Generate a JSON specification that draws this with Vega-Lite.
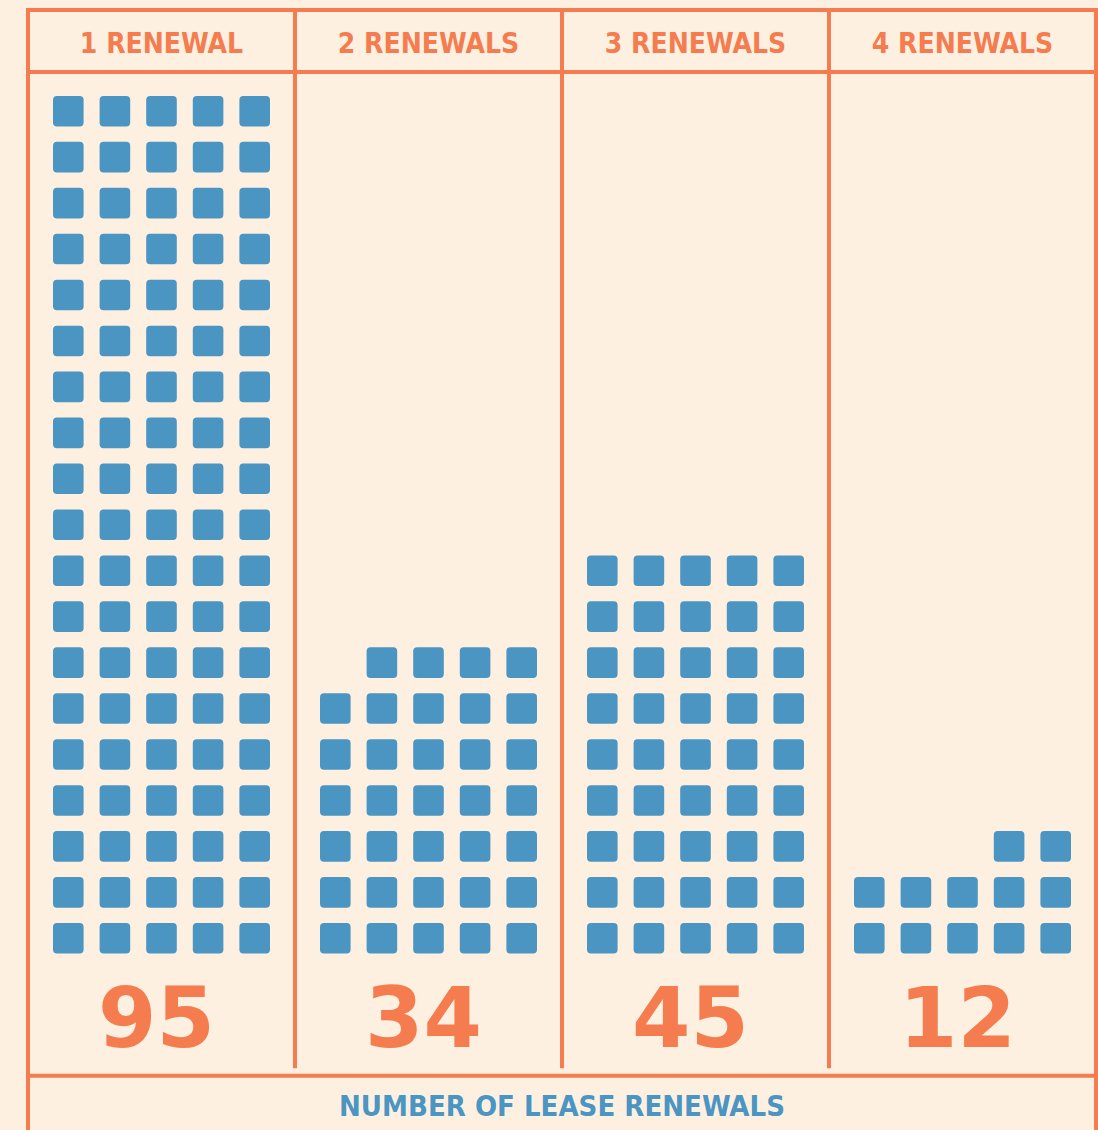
{
  "$schema": "https://vega.github.io/schema/vega-lite/v6.json",
  "width": 1068,
  "height": 1120,
  "autosize": {"type": "none"},
  "padding": {"left": 28, "top": 10, "right": 2, "bottom": 0},
  "background": "#FEF0E1",
  "config": {"view": {"stroke": null}, "axis": {"disable": true}},
  "datasets": {
    "totals": [
      {"g": 1, "label": "1 RENEWAL", "count": 95},
      {"g": 2, "label": "2 RENEWALS", "count": 34},
      {"g": 3, "label": "3 RENEWALS", "count": 45},
      {"g": 4, "label": "4 RENEWALS", "count": 12}
    ],
    "squares": [
      {"g":1,"r":0,"c":0},{"g":1,"r":0,"c":1},{"g":1,"r":0,"c":2},{"g":1,"r":0,"c":3},{"g":1,"r":0,"c":4},
      {"g":1,"r":1,"c":0},{"g":1,"r":1,"c":1},{"g":1,"r":1,"c":2},{"g":1,"r":1,"c":3},{"g":1,"r":1,"c":4},
      {"g":1,"r":2,"c":0},{"g":1,"r":2,"c":1},{"g":1,"r":2,"c":2},{"g":1,"r":2,"c":3},{"g":1,"r":2,"c":4},
      {"g":1,"r":3,"c":0},{"g":1,"r":3,"c":1},{"g":1,"r":3,"c":2},{"g":1,"r":3,"c":3},{"g":1,"r":3,"c":4},
      {"g":1,"r":4,"c":0},{"g":1,"r":4,"c":1},{"g":1,"r":4,"c":2},{"g":1,"r":4,"c":3},{"g":1,"r":4,"c":4},
      {"g":1,"r":5,"c":0},{"g":1,"r":5,"c":1},{"g":1,"r":5,"c":2},{"g":1,"r":5,"c":3},{"g":1,"r":5,"c":4},
      {"g":1,"r":6,"c":0},{"g":1,"r":6,"c":1},{"g":1,"r":6,"c":2},{"g":1,"r":6,"c":3},{"g":1,"r":6,"c":4},
      {"g":1,"r":7,"c":0},{"g":1,"r":7,"c":1},{"g":1,"r":7,"c":2},{"g":1,"r":7,"c":3},{"g":1,"r":7,"c":4},
      {"g":1,"r":8,"c":0},{"g":1,"r":8,"c":1},{"g":1,"r":8,"c":2},{"g":1,"r":8,"c":3},{"g":1,"r":8,"c":4},
      {"g":1,"r":9,"c":0},{"g":1,"r":9,"c":1},{"g":1,"r":9,"c":2},{"g":1,"r":9,"c":3},{"g":1,"r":9,"c":4},
      {"g":1,"r":10,"c":0},{"g":1,"r":10,"c":1},{"g":1,"r":10,"c":2},{"g":1,"r":10,"c":3},{"g":1,"r":10,"c":4},
      {"g":1,"r":11,"c":0},{"g":1,"r":11,"c":1},{"g":1,"r":11,"c":2},{"g":1,"r":11,"c":3},{"g":1,"r":11,"c":4},
      {"g":1,"r":12,"c":0},{"g":1,"r":12,"c":1},{"g":1,"r":12,"c":2},{"g":1,"r":12,"c":3},{"g":1,"r":12,"c":4},
      {"g":1,"r":13,"c":0},{"g":1,"r":13,"c":1},{"g":1,"r":13,"c":2},{"g":1,"r":13,"c":3},{"g":1,"r":13,"c":4},
      {"g":1,"r":14,"c":0},{"g":1,"r":14,"c":1},{"g":1,"r":14,"c":2},{"g":1,"r":14,"c":3},{"g":1,"r":14,"c":4},
      {"g":1,"r":15,"c":0},{"g":1,"r":15,"c":1},{"g":1,"r":15,"c":2},{"g":1,"r":15,"c":3},{"g":1,"r":15,"c":4},
      {"g":1,"r":16,"c":0},{"g":1,"r":16,"c":1},{"g":1,"r":16,"c":2},{"g":1,"r":16,"c":3},{"g":1,"r":16,"c":4},
      {"g":1,"r":17,"c":0},{"g":1,"r":17,"c":1},{"g":1,"r":17,"c":2},{"g":1,"r":17,"c":3},{"g":1,"r":17,"c":4},
      {"g":1,"r":18,"c":0},{"g":1,"r":18,"c":1},{"g":1,"r":18,"c":2},{"g":1,"r":18,"c":3},{"g":1,"r":18,"c":4},
      {"g":2,"r":0,"c":0},{"g":2,"r":0,"c":1},{"g":2,"r":0,"c":2},{"g":2,"r":0,"c":3},{"g":2,"r":0,"c":4},
      {"g":2,"r":1,"c":0},{"g":2,"r":1,"c":1},{"g":2,"r":1,"c":2},{"g":2,"r":1,"c":3},{"g":2,"r":1,"c":4},
      {"g":2,"r":2,"c":0},{"g":2,"r":2,"c":1},{"g":2,"r":2,"c":2},{"g":2,"r":2,"c":3},{"g":2,"r":2,"c":4},
      {"g":2,"r":3,"c":0},{"g":2,"r":3,"c":1},{"g":2,"r":3,"c":2},{"g":2,"r":3,"c":3},{"g":2,"r":3,"c":4},
      {"g":2,"r":4,"c":0},{"g":2,"r":4,"c":1},{"g":2,"r":4,"c":2},{"g":2,"r":4,"c":3},{"g":2,"r":4,"c":4},
      {"g":2,"r":5,"c":0},{"g":2,"r":5,"c":1},{"g":2,"r":5,"c":2},{"g":2,"r":5,"c":3},{"g":2,"r":5,"c":4},
      {"g":2,"r":6,"c":1},{"g":2,"r":6,"c":2},{"g":2,"r":6,"c":3},{"g":2,"r":6,"c":4},
      {"g":3,"r":0,"c":0},{"g":3,"r":0,"c":1},{"g":3,"r":0,"c":2},{"g":3,"r":0,"c":3},{"g":3,"r":0,"c":4},
      {"g":3,"r":1,"c":0},{"g":3,"r":1,"c":1},{"g":3,"r":1,"c":2},{"g":3,"r":1,"c":3},{"g":3,"r":1,"c":4},
      {"g":3,"r":2,"c":0},{"g":3,"r":2,"c":1},{"g":3,"r":2,"c":2},{"g":3,"r":2,"c":3},{"g":3,"r":2,"c":4},
      {"g":3,"r":3,"c":0},{"g":3,"r":3,"c":1},{"g":3,"r":3,"c":2},{"g":3,"r":3,"c":3},{"g":3,"r":3,"c":4},
      {"g":3,"r":4,"c":0},{"g":3,"r":4,"c":1},{"g":3,"r":4,"c":2},{"g":3,"r":4,"c":3},{"g":3,"r":4,"c":4},
      {"g":3,"r":5,"c":0},{"g":3,"r":5,"c":1},{"g":3,"r":5,"c":2},{"g":3,"r":5,"c":3},{"g":3,"r":5,"c":4},
      {"g":3,"r":6,"c":0},{"g":3,"r":6,"c":1},{"g":3,"r":6,"c":2},{"g":3,"r":6,"c":3},{"g":3,"r":6,"c":4},
      {"g":3,"r":7,"c":0},{"g":3,"r":7,"c":1},{"g":3,"r":7,"c":2},{"g":3,"r":7,"c":3},{"g":3,"r":7,"c":4},
      {"g":3,"r":8,"c":0},{"g":3,"r":8,"c":1},{"g":3,"r":8,"c":2},{"g":3,"r":8,"c":3},{"g":3,"r":8,"c":4},
      {"g":4,"r":0,"c":0},{"g":4,"r":0,"c":1},{"g":4,"r":0,"c":2},{"g":4,"r":0,"c":3},{"g":4,"r":0,"c":4},
      {"g":4,"r":1,"c":0},{"g":4,"r":1,"c":1},{"g":4,"r":1,"c":2},{"g":4,"r":1,"c":3},{"g":4,"r":1,"c":4},
      {"g":4,"r":2,"c":3},{"g":4,"r":2,"c":4}
    ]
  },
  "layer": [
    {
      "data": {"name": "squares"},
      "mark": {
        "type": "point",
        "shape": "M-0.74,-1H0.74Q1,-1 1,-0.74V0.74Q1,1 0.74,1H-0.74Q-1,1 -1,0.74V-0.74Q-1,-1 -0.74,-1Z",
        "size": 936,
        "filled": true,
        "color": "#4A95C1",
        "opacity": 1,
        "strokeWidth": 0
      },
      "encoding": {
        "x": {"field": "g", "type": "ordinal", "axis": null,
              "scale": {"type": "band", "domain": [1, 2, 3, 4], "paddingInner": 0, "paddingOuter": 0}},
        "xOffset": {"field": "c", "type": "ordinal",
                    "scale": {"type": "point", "domain": [0, 1, 2, 3, 4], "padding": 0.865}},
        "y": {"field": "r", "type": "quantitative", "axis": null,
              "scale": {"domain": [-4.172, 20.202], "nice": false, "zero": false}}
      }
    },
    {
      "data": {"name": "totals"},
      "mark": {"type": "rule", "color": "#F47C4E", "strokeWidth": 4},
      "encoding": {
        "x": {"field": "g", "type": "ordinal", "bandPosition": 0, "axis": null},
        "y": {"datum": -2.83},
        "y2": {"datum": 20.202}
      }
    },
    {
      "data": {"values": [{"side": "left"}]},
      "mark": {"type": "rule", "color": "#F47C4E", "strokeWidth": 4, "strokeCap": "square"},
      "encoding": {
        "x": {"datum": 1, "type": "ordinal", "bandPosition": 0},
        "y": {"datum": -4.172},
        "y2": {"datum": 20.202}
      }
    },
    {
      "data": {"values": [{"side": "right"}]},
      "mark": {"type": "rule", "color": "#F47C4E", "strokeWidth": 4, "strokeCap": "square"},
      "encoding": {
        "x": {"datum": 4, "type": "ordinal", "bandPosition": 1},
        "y": {"datum": -4.172},
        "y2": {"datum": 20.202}
      }
    },
    {
      "data": {"values": [{"line": "top"}]},
      "mark": {"type": "rule", "color": "#F47C4E", "strokeWidth": 4, "strokeCap": "square"},
      "encoding": {
        "y": {"datum": 20.202}
      }
    },
    {
      "data": {"values": [{"line": "header"}]},
      "mark": {"type": "rule", "color": "#F47C4E", "strokeWidth": 4},
      "encoding": {
        "y": {"datum": 18.853}
      }
    },
    {
      "data": {"values": [{"line": "footer"}]},
      "mark": {"type": "rule", "color": "#F47C4E", "strokeWidth": 4},
      "encoding": {
        "y": {"datum": -2.992}
      }
    },
    {
      "data": {"name": "totals"},
      "mark": {"type": "text", "font": "DejaVu Sans Condensed", "fontWeight": "bold", "fontSize": 28,
               "color": "#F47C4E", "baseline": "alphabetic", "align": "center"},
      "encoding": {
        "x": {"field": "g", "type": "ordinal", "axis": null},
        "y": {"datum": 19.26},
        "text": {"field": "label"}
      }
    },
    {
      "data": {"name": "totals"},
      "mark": {"type": "text", "font": "DejaVu Sans", "fontWeight": "bold", "fontSize": 84,
               "color": "#F47C4E", "baseline": "alphabetic", "align": "center", "dx": -5},
      "encoding": {
        "x": {"field": "g", "type": "ordinal", "axis": null},
        "y": {"datum": -2.366},
        "text": {"field": "count"}
      }
    },
    {
      "data": {"values": [{"label": "NUMBER OF LEASE RENEWALS"}]},
      "mark": {"type": "text", "font": "DejaVu Sans Condensed", "fontWeight": "bold", "fontSize": 29,
               "color": "#4A95C1", "baseline": "alphabetic", "align": "center"},
      "encoding": {
        "y": {"datum": -3.861},
        "text": {"field": "label"}
      }
    }
  ]
}
